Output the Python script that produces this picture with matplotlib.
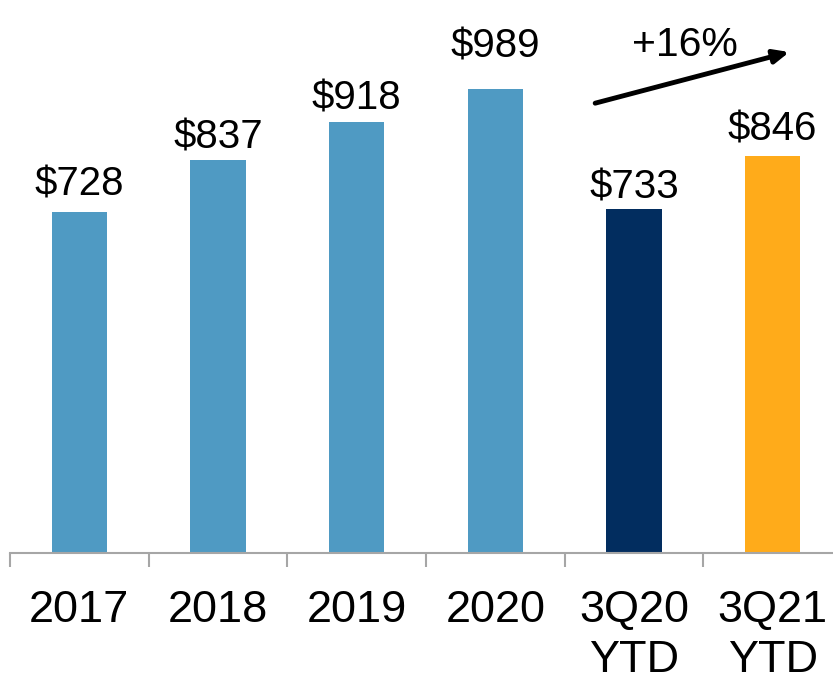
import matplotlib
matplotlib.use('Agg')
import matplotlib.pyplot as plt
import numpy as np

categories = ['2017', '2018', '2019', '2020', '3Q20\nYTD', '3Q21\nYTD']
values = [728, 837, 918, 989, 733, 846]
colors = ['#4F9AC3', '#4F9AC3', '#4F9AC3', '#4F9AC3', '#022D5F', '#FFAB1A']
growth_label = '+16%'

# label offsets above bars (points), placed by hand as in the original slide
label_offsets = [11.5, 8.6, 9.4, 23, 7.9, 11.5]

plt.rcParams['font.family'] = ['Liberation Sans', 'DejaVu Sans']

fig = plt.figure(figsize=(8.33, 6.77), dpi=100)
ax = fig.add_axes([10/833, 1 - 553/677, 832/833, 553/677])

x = np.arange(len(values))
ax.bar(x, values, width=0.4, color=colors, zorder=2)

for xi, v, off in zip(x, values, label_offsets):
    ax.annotate('$%d' % v, (xi, v), xytext=(0, off), textcoords='offset points',
                ha='center', va='baseline', fontsize=29)

ax.set_xlim(-0.5, 5.5)
ax.set_ylim(0, 1179)

ax.set_xticks(x)
ax.set_xticklabels(categories, fontsize=32.5, linespacing=1.27)
ax.tick_params(axis='x', which='major', length=0, pad=27)
ax.set_xticks(np.arange(-0.5, 6.0, 1.0), minor=True)
ax.tick_params(axis='x', which='minor', length=10, width=1.5, color='#A6A6A6', direction='out')
ax.set_yticks([])

for s in ['top', 'right', 'left']:
    ax.spines[s].set_visible(False)
ax.spines['bottom'].set_color('#A6A6A6')
ax.spines['bottom'].set_linewidth(1.5)

# growth arrow
ax.annotate('', xy=(5.12, 1068), xytext=(3.72, 959),
            arrowprops=dict(arrowstyle='-|>,head_length=0.9,head_width=0.4', lw=3.5, color='black',
                            shrinkA=0, shrinkB=0))
ax.text(4.37, 1083, growth_label, ha='center', va='center', fontsize=29.5)

plt.savefig('out.png', dpi=100)
